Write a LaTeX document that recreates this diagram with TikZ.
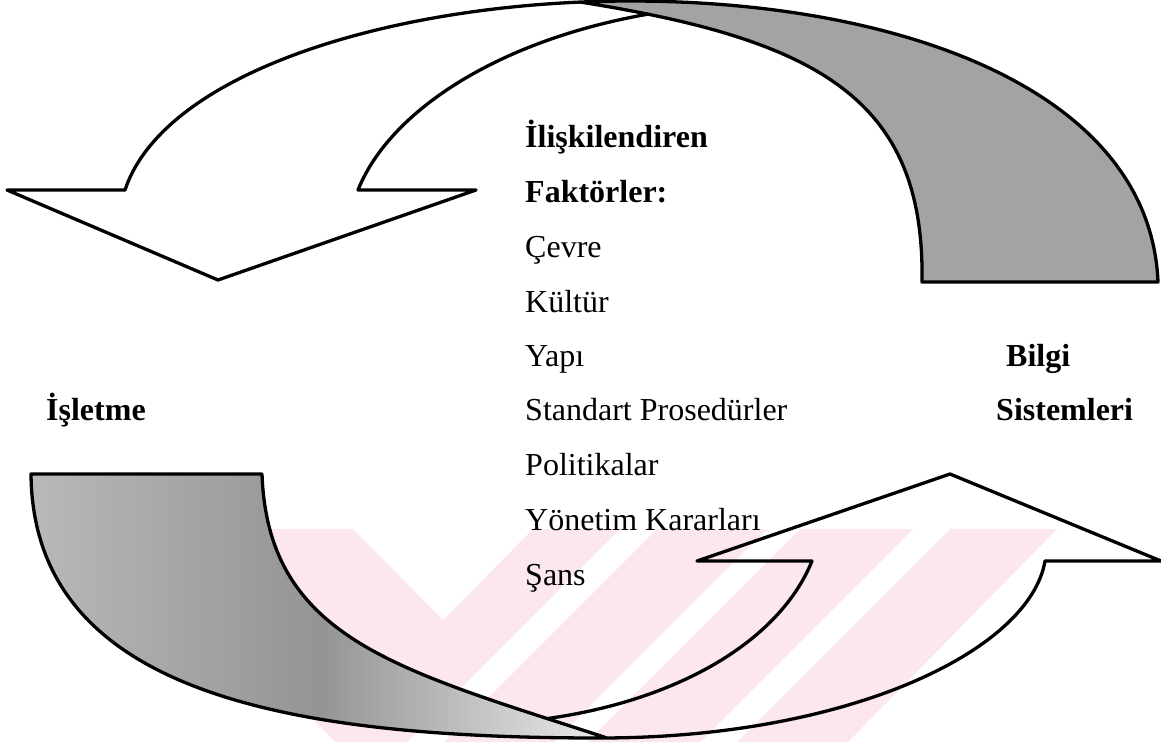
\documentclass[tikz,border=0pt]{standalone}
\usepackage{fontspec}
\setmainfont{Liberation Serif}
\definecolor{wmpink}{RGB}{252,232,236}
\begin{document}
\begin{tikzpicture}[x=1pt,y=-1pt,line join=round,line cap=round,
  edge/.style={line width=3.3pt,black},
  lbl/.style={anchor=base west,inner sep=0pt,font=\fontsize{32}{38}\selectfont},
  blbl/.style={anchor=base west,inner sep=0pt,font=\fontsize{32}{38}\selectfont\bfseries}]
\useasboundingbox (0,0) rectangle (1161,742);

% faint watermark
\fill[wmpink] (123,529) -- (353,529) -- (443,620) -- (533,529) -- (620,529) -- (407,742) -- (336,742) -- cycle;
\fill[wmpink] (657,529) -- (767,529) -- (554,742) -- (444,742) -- cycle;
\fill[wmpink] (800,529) -- (913,529) -- (700,742) -- (587,742) -- cycle;
\fill[wmpink] (950,529) -- (1057,529) -- (848,742) -- (737,742) -- cycle;

% ---------- key points ----------
% top arrow
\coordinate (tOS) at (125,190);
\coordinate (tLB) at (7,190);
\coordinate (tT)  at (218,280);
\coordinate (tIS) at (358,190);
\coordinate (tRB) at (476,190);
\coordinate (tTop) at (630,1);
\coordinate (tGo) at (1158,282);
\coordinate (tGi) at (922,282);
\coordinate (tM)  at (580,2);
\path (tGi) .. controls (925,100) and (820,40) .. (tM) coordinate[pos=0.9] (tX);
% bottom arrow
\coordinate (bOS) at (1045,561);
\coordinate (bRB) at (1161,561);
\coordinate (bT)  at (950,474);
\coordinate (bIS) at (812,561);
\coordinate (bLB) at (697,561);
\coordinate (bBot) at (600,738);
\coordinate (bGo) at (31,474);
\coordinate (bGi) at (262,474);
\coordinate (bM)  at (607,738);
\path (bGi) .. controls (268,640) and (400,670) .. (bM) coordinate[pos=0.9] (bX);

% ---------- top curved arrow ----------
\begin{scope}
  \clip (tOS) .. controls (165,70) and (400,1) .. (tTop)
        .. controls (900,1) and (1150,90) .. (tGo) -- (1158,300) -- (125,300) -- cycle;
  \fill[black!36] (tGi) .. controls (925,100) and (820,40) .. (tM)
        -- (560,-20) -- (1200,-20) -- (1200,282) -- cycle;
\end{scope}
\draw[edge] (tOS) .. controls (165,70) and (400,1) .. (tTop)
        .. controls (900,1) and (1150,90) .. (tGo) -- (tGi)
        .. controls (925,100) and (820,40) .. (tM);
\draw[edge] (tX) .. controls (500,40) and (390,110) .. (tIS)
        -- (tRB) -- (tT) -- (tLB) -- (tOS);

% ---------- bottom curved arrow ----------
\begin{scope}
  \clip (bGo) .. controls (33,690) and (280,738) .. (bBot)
        .. controls (850,738) and (1030,650) .. (bOS) -- (1045,474) -- cycle;
  \shade[left color=black!26,right color=black!4,middle color=black!42]
        (bGi) .. controls (268,640) and (400,670) .. (bM)
        -- (640,760) -- (0,760) -- (0,474) -- cycle;
\end{scope}
\draw[edge] (bOS) .. controls (1030,650) and (850,738) .. (bBot)
        .. controls (280,738) and (33,690) .. (bGo) -- (bGi)
        .. controls (268,640) and (400,670) .. (bM);
\draw[edge] (bX) .. controls (680,700) and (780,640) .. (bIS)
        -- (bLB) -- (bT) -- (bRB) -- (bOS);

% ---------- texts ----------
\node[blbl] (f1) at (525,147) {İlişkilendiren};
\node[blbl] (f2) at (525,202) {Faktörler:};
\node[lbl] (f3) at (525,257) {Çevre};
\node[lbl] (f4) at (525,312) {Kültür};
\node[lbl] (f5) at (525,366) {Yapı};
\node[lbl] (f6) at (525,420) {Standart Prosedürler};
\node[lbl] (f7) at (525,475) {Politikalar};
\node[lbl] (f8) at (525,530) {Yönetim Kararları};
\node[lbl] (f9) at (525,585) {Şans};
\node[blbl] (isl) at (46,420) {İşletme};
\node[blbl] (bil) at (1006,366) {Bilgi};
\node[blbl] (sis) at (996,420) {Sistemleri};
\end{tikzpicture}
\end{document}
